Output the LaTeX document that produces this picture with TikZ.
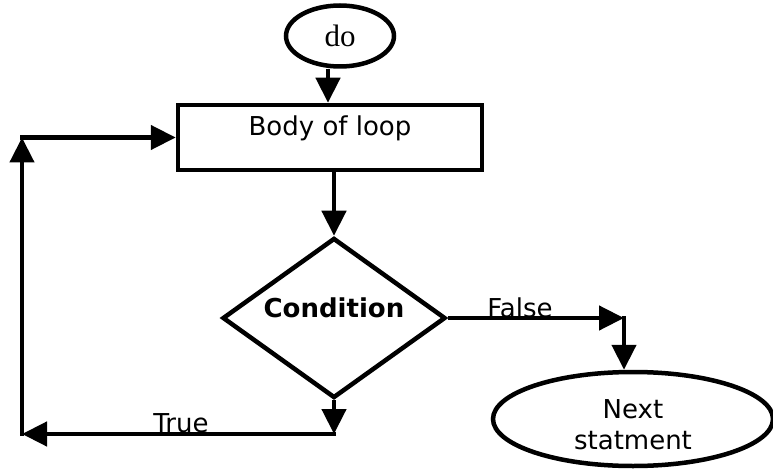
\documentclass[tikz,border=0pt]{standalone}
\usepackage{fontspec}
\setmainfont{DejaVu Sans}
\newfontfamily\dofont{Liberation Serif}
\usetikzlibrary{arrows.meta,shapes.geometric}
\begin{document}
\begin{tikzpicture}[x=1pt,y=-1pt,
				line width=4.5pt,
				every node/.style={font=\fontsize{26pt}{31pt}\selectfont},
				arr/.style={-{Triangle[length=25pt,width=24pt]}}]
\useasboundingbox (0,0) rectangle (773,470);
\node[draw, ellipse, inner sep=0pt, minimum width=108pt, minimum height=61pt,
	font=\dofont\fontsize{31pt}{34pt}\selectfont](do) at (340,36) {do};
\node[draw, rectangle, minimum width=304pt, minimum height=65pt,
	label={[yshift=9pt]center:Body of loop}](body) at (330,137.5) {};
\node[draw, diamond, inner sep=0pt, minimum width=223pt, minimum height=160pt](cond) at (334,318) {};
\node[font=\bfseries\fontsize{26pt}{30pt}\selectfont] at ([yshift=10pt]cond.center) {Condition};
\node[draw, ellipse, inner sep=0pt, minimum width=280pt, minimum height=94pt,
	label={[align=center,yshift=-6pt]center:Next\\statment}](next) at (633,419) {};
\coordinate (fcorner) at (624,318);
\coordinate (tcorner) at (334,434);
\coordinate (lcorner) at (22,434);
\coordinate (ucorner) at (lcorner |- body.west);
\draw[arr] ([xshift=-12pt]do.south) -- ([xshift=-12pt]do.south |- body.north);
\draw[arr] (body.south -| cond.north) -- (cond.north);
\draw[arr] (cond.east) -- (fcorner);
\draw[arr] ([yshift=2pt]fcorner) -- (fcorner |- next.north);
\draw[arr] (cond.south) -- (tcorner);
\draw[arr] ([xshift=2pt]tcorner) -- (lcorner);
\draw[arr] ([yshift=-2pt]lcorner) -- (ucorner);
\draw[arr] ([xshift=-2pt]ucorner) -- (body.west);
\node at (520,308) {False};
\node at (181,423) {True};
\end{tikzpicture}
\end{document}
